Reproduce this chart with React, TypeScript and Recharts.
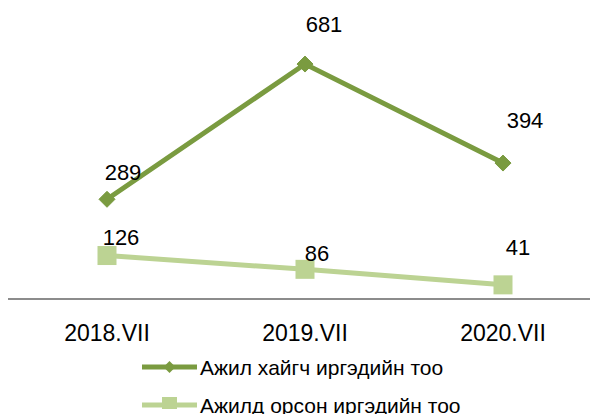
import { LineChart, Line, XAxis, YAxis, Legend, LabelList } from "recharts";

const categories = ["2018.VII", "2019.VII", "2020.VII"];
const seekers = [289, 681, 394];
const employed = [126, 86, 41];

const SEEK_NAME = "Ажил хайгч иргэдийн тоо";
const EMP_NAME = "Ажилд орсон иргэдийн тоо";

const DARK = "#7A9B40";
const LIGHT = "#BCD393";

// label nudges (dx, dy) relative to each point
const seekOffsets = [[16, -27], [19, -40], [22, -43]];
const empOffsets = [[14, -18], [12, -16], [15, -37]];

const data = categories.map((c, i) => ({ name: c, seek: seekers[i], emp: employed[i] }));

const makeLabel = (offsets: number[][]) => (props: any) => {
  const { x, y, index, value } = props;
  const [dx, dy] = offsets[index] || [0, 0];
  return (
    <text
      x={x + dx}
      y={y + dy}
      textAnchor="middle"
      dominantBaseline="central"
      fontSize={22}
      fill="#000"
      fontFamily="Liberation Sans, Arial, sans-serif"
    >
      {value}
    </text>
  );
};

const Diamond = (props: any) => {
  const { cx, cy } = props;
  if (cx == null || cy == null) return null;
  const r = 8;
  return (
    <path
      d={`M${cx},${cy - r}L${cx + r},${cy}L${cx},${cy + r}L${cx - r},${cy}Z`}
      fill={DARK}
      stroke={DARK}
      strokeWidth={1}
    />
  );
};

const Square = (props: any) => {
  const { cx, cy } = props;
  if (cx == null || cy == null) return null;
  const s = 19;
  return <rect x={cx - s / 2} y={cy - s / 2} width={s} height={s} fill={LIGHT} />;
};

const LegendBox = () => (
  <div style={{ position: "relative", width: 594, height: 70, fontFamily: "Liberation Sans, Arial, sans-serif", fontSize: 21, color: "#000" }}>
    <svg width={60} height={70} style={{ position: "absolute", left: 132, top: 0 }}>
      <line x1={2} y1={28} x2={57} y2={28} stroke={DARK} strokeWidth={5} />
      <path d="M29.5,22L35.5,28L29.5,34L23.5,28Z" fill={DARK} />
      <line x1={2} y1={66} x2={57} y2={66} stroke={LIGHT} strokeWidth={5} />
      <rect x={22} y={58} width={15} height={15} fill={LIGHT} />
    </svg>
    <div style={{ position: "absolute", left: 192, top: 28, transform: "translateY(-50%)", whiteSpace: "nowrap", lineHeight: 1 }}>{SEEK_NAME}</div>
    <div style={{ position: "absolute", left: 192, top: 66, transform: "translateY(-50%)", whiteSpace: "nowrap", lineHeight: 1 }}>{EMP_NAME}</div>
  </div>
);

export default function App() {
  return (
    <LineChart width={594} height={406} data={data} margin={{ top: 15, right: 0, bottom: 5, left: 0 }}>
      <XAxis
        dataKey="name"
        padding={{ left: 99, right: 99 }}
        axisLine={{ stroke: "#8C8C8C", strokeWidth: 2 }}
        tickLine={false}
        tickSize={6}
        tickMargin={20}
        height={40}
        tick={{ fill: "#000", fontSize: 23, fontFamily: "Liberation Sans, Arial, sans-serif" }}
      />
      <YAxis hide domain={[0, 800]} />
      <Legend verticalAlign="bottom" height={70} content={() => <LegendBox />} />
      <Line
        name={SEEK_NAME}
        dataKey="seek"
        stroke={DARK}
        strokeWidth={5}
        dot={<Diamond />}
        activeDot={false}
        isAnimationActive={false}
      >
        <LabelList dataKey="seek" content={makeLabel(seekOffsets)} />
      </Line>
      <Line
        name={EMP_NAME}
        dataKey="emp"
        stroke={LIGHT}
        strokeWidth={5}
        dot={<Square />}
        activeDot={false}
        isAnimationActive={false}
      >
        <LabelList dataKey="emp" content={makeLabel(empOffsets)} />
      </Line>
    </LineChart>
  );
}
